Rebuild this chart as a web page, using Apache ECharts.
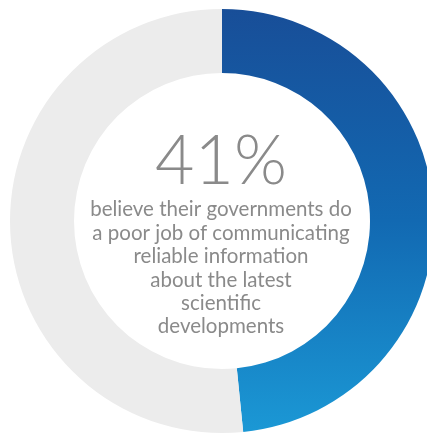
<!DOCTYPE html>
<html>
<head>
<meta charset="utf-8">
<script src="https://cdn.jsdelivr.net/npm/echarts@6/dist/echarts.min.js"></script>
<style>
  html, body { margin: 0; padding: 0; background: #ffffff; }
  #chart { width: 427px; height: 434px; }
</style>
</head>
<body>
<div id="chart"></div>
<script>
// Share of respondents (highlighted arc) and the remaining ring segment
const sliceNames = ['Poor job', 'Rest'];
const sliceValues = [41, 43.7];
const headline = '41%';
const captionLines = [
  'believe their governments do',
  'a poor job of communicating',
  'reliable information',
  'about the latest',
  'scientific',
  'developments'
];

const chart = echarts.init(document.getElementById('chart'), null, { renderer: 'canvas' });

const blueGradient = new echarts.graphic.LinearGradient(0, 0, 0, 1, [
  { offset: 0, color: '#184e98' },
  { offset: 0.5, color: '#1269b2' },
  { offset: 1, color: '#1b98d5' }
]);
const sliceColors = [blueGradient, '#ececec'];

chart.setOption({
  animation: false,
  series: [{
    type: 'pie',
    center: [222, 221],
    radius: [148, 212],
    startAngle: 90,
    clockwise: true,
    silent: true,
    label: { show: false },
    labelLine: { show: false },
    itemStyle: { borderWidth: 0 },
    data: sliceNames.map((n, i) => ({
      name: n,
      value: sliceValues[i],
      itemStyle: { color: sliceColors[i] }
    }))
  }],
  graphic: [
    {
      type: 'text',
      style: {
        text: headline,
        x: 221,
        y: 128,
        fill: '#8a8a8a',
        font: '300 68px Lato',
        textAlign: 'center',
        textVerticalAlign: 'top'
      }
    },
    {
      type: 'text',
      style: {
        text: captionLines.join('\n'),
        x: 221,
        y: 198,
        fill: '#8a8a8a',
        font: '400 20.5px Lato',
        lineHeight: 23.4,
        textAlign: 'center',
        textVerticalAlign: 'top'
      }
    }
  ]
});
</script>
</body>
</html>
